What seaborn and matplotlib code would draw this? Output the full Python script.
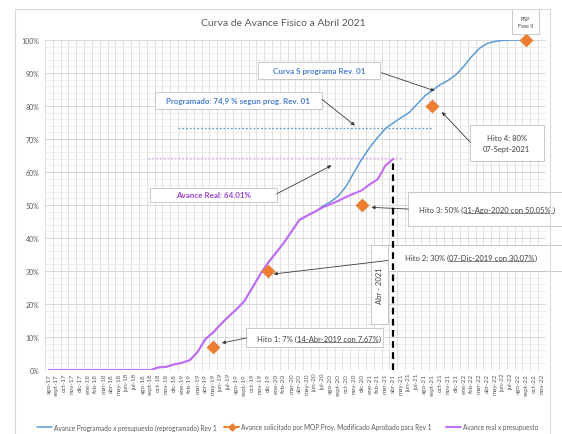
import numpy as np
import matplotlib
matplotlib.use('Agg')
import matplotlib.pyplot as plt
import seaborn as sns
from matplotlib.lines import Line2D
from matplotlib.patches import Rectangle
from matplotlib.ticker import MultipleLocator, PercentFormatter

# ---- data ----
meses = ['ago-17', 'sept-17', 'oct-17', 'nov-17', 'dic-17',
         'ene-18', 'feb-18', 'mar-18', 'abr-18', 'may-18', 'jun-18', 'jul-18',
         'ago-18', 'sept-18', 'oct-18', 'nov-18', 'dic-18',
         'ene-19', 'feb-19', 'mar-19', 'abr-19', 'may-19', 'jun-19', 'jul-19',
         'ago-19', 'sept-19', 'oct-19', 'nov-19', 'dic-19',
         'ene-20', 'feb-20', 'mar-20', 'abr-20', 'may-20', 'jun-20', 'jul-20',
         'ago-20', 'sept-20', 'oct-20', 'nov-20', 'dic-20',
         'ene-21', 'feb-21', 'mar-21', 'abr-21', 'may-21', 'jun-21', 'jul-21',
         'ago-21', 'sept-21', 'oct-21', 'nov-21', 'dic-21',
         'ene-22', 'feb-22', 'mar-22', 'abr-22', 'may-22', 'jun-22', 'jul-22',
         'ago-22', 'sept-22', 'oct-22', 'nov-22']

# Avance Programado x presupuesto (reprogramado) Rev 1, ago-17 .. sept-22
programado = [0, 0, 0, 0, 0, 0, 0, 0, 0, 0, 0, 0, 0, 0,
              0.8, 1.0, 1.7, 2.2, 3.0, 5.5, 9.4, 11.4, 14.0, 16.3, 18.5, 21.0,
              25.0, 29.0, 32.5, 35.5, 38.5, 42.0, 45.5, 46.8, 48.0,
              49.7, 51.0, 52.8, 55.8, 60.0, 64.0, 67.5, 70.5, 73.2, 74.9,
              76.5, 78.0, 80.5, 83.0, 84.8, 86.5, 87.8, 89.5, 92.0, 95.0,
              97.5, 99.0, 99.6, 99.9, 100, 100, 100]

# Avance real x presupuesto, ago-17 .. abr-21
real = [0, 0, 0, 0, 0, 0, 0, 0, 0, 0, 0, 0, 0, 0,
        0.8, 1.0, 1.7, 2.2, 3.0, 5.5, 9.4, 11.4, 14.0, 16.3, 18.5, 21.0,
        25.0, 29.0, 32.5, 35.5, 38.5, 42.0, 45.5, 46.8, 48.0,
        49.3, 50.3, 51.3, 52.5, 53.5, 54.5, 56.3, 57.8, 62.0, 64.01]

# Avance solicitado por MOP (hitos)
hitos_mes = ['may-19', 'dic-19', 'dic-20', 'sept-21', 'sept-22']
hitos_val = [7, 30, 50, 80, 100]

prog_ref = 73.3     # linea punteada azul
real_ref = 64.2     # linea punteada violeta
corte_mes = 'abr-21'

AZUL = '#5b9bd5'
NARANJA = '#ed7d31'
VIOLETA = '#c46bf5'
GRIS = '#595959'
TXT = '#404040'

sns.set_style('whitegrid')
plt.rcParams['font.family'] = ['Lato', 'DejaVu Sans']

fig = plt.figure(figsize=(5.62, 4.35), dpi=100)
ax = fig.add_axes([0.080, 0.147, 0.8915, 0.7586])

x_prog = np.arange(len(programado))
x_real = np.arange(len(real))
x_hito = [meses.index(m) for m in hitos_mes]
x_corte = meses.index(corte_mes)

sns.lineplot(x=x_prog, y=programado, ax=ax, color=AZUL, lw=1.1,
             estimator=None, zorder=3)
sns.lineplot(x=x_real, y=real, ax=ax, color=VIOLETA, lw=1.5,
             estimator=None, zorder=3)
sns.scatterplot(x=x_hito, y=hitos_val, ax=ax, color=NARANJA, marker='D',
                s=50, edgecolor=NARANJA, linewidth=0, zorder=4, clip_on=False)

# reference dotted lines
ax.plot([16.5, 49], [prog_ref, prog_ref], ls=(0, (1.5, 1.5)), color=AZUL,
        lw=0.9, zorder=2)
ax.plot([12.7, 45.1], [real_ref, real_ref], ls=(0, (1.5, 1.5)), color='#e59cf5',
        lw=0.9, zorder=2)
ax.plot([x_corte, x_corte], [0, real[-1]], ls=(0, (3, 2)), color='black',
        lw=1.6, zorder=8)

ax.set_xlim(-0.5, len(meses) - 0.5)
ax.set_ylim(0, 100)
ax.set_xticks(range(len(meses)))
ax.set_xticklabels(meses, rotation=90, fontsize=4.6, color=GRIS)
ax.xaxis.set_minor_locator(MultipleLocator(1, offset=0.5))
ax.yaxis.set_major_locator(MultipleLocator(10))
ax.yaxis.set_minor_locator(MultipleLocator(2))
ax.yaxis.set_major_formatter(PercentFormatter(100, decimals=0))
ax.tick_params(axis='y', labelsize=5.0, labelcolor=GRIS, length=0, pad=4)
ax.tick_params(axis='x', length=0, pad=2)
ax.tick_params(which='minor', length=0)
ax.grid(False)
ax.grid(axis='x', which='minor', color='#dadada', lw=0.6)
ax.grid(axis='y', which='major', color='#d2d2d2', lw=0.6)
ax.grid(axis='y', which='minor', color='#e6e6e6', lw=0.5)
for s in ax.spines.values():
    s.set_visible(False)
ax.set_xlabel('')
ax.set_ylabel('')

FS = 5.5      # texto normal de las cajas
FSB = 5.8     # texto en negrita
subrayados = []


def caja(x0, x1, y0, y1):
    ax.add_patch(Rectangle((x0, y0), x1 - x0, y1 - y0, facecolor='white',
                           edgecolor='#c0c0c0', lw=0.6, zorder=6, clip_on=False))


def flecha(tail, tip):
    ax.annotate('', xy=tip, xytext=tail, zorder=7,
                arrowprops=dict(arrowstyle='-|>', color='#3a3a3a', lw=0.6,
                                mutation_scale=5, shrinkA=0, shrinkB=0))


# Curva S
caja(26.7, 42.3, 88.3, 93.4)
ax.text(34.5, 90.8, 'Curva S programa Rev. 01', ha='center', va='center',
        fontsize=FSB, color='#4a7fd0', fontweight='bold', zorder=7)
flecha((42.5, 90.1), (49.3, 84.6))

# Programado
caja(13.5, 34.9, 79.2, 84.4)
ax.text(24.2, 81.8, 'Programado: 74,9 % segun prog. Rev. 01', ha='center',
        va='center', fontsize=FSB, color='#4a7fd0', fontweight='bold', zorder=7)
flecha((34.9, 82.0), (39.1, 74.1))

# Avance real
caja(12.9, 29.1, 51.0, 55.2)
ax.text(21.0, 53.1, 'Avance Real: 64,01%', ha='center', va='center',
        fontsize=FSB, color='#9a45d6', fontweight='bold', zorder=7)
flecha((29.1, 53.4), (36.1, 62.0))

# Hito 3
caja(45.9, 66.0, 43.8, 53.9)
subrayados.append((47.3, 48.0, 'Hito 3: 50% (', '31-Ago-2020 con 50,05% ', ')'))
flecha((45.9, 48.8), (41.2, 49.3))

# Hito 2
caja(43.3, 66.0, 30.0, 37.9)
subrayados.append((45.5, 33.4, 'Hito 2: 30% (', '07-Dic-2019 con 30,07%', ')'))
flecha((43.3, 33.2), (28.7, 29.1))

# Hito 1
caja(25.2, 42.7, 6.9, 12.6)
subrayados.append((26.6, 8.9, 'Hito 1: 7% (', '14-Abr-2019 con 7,67%', ')'))
flecha((25.2, 9.7), (22.1, 8.2))

# Hito 4
caja(53.8, 63.3, 63.3, 74.4)
ax.text(58.5, 68.8, 'Hito 4: 80%\n07-Sept-2021', ha='center', va='center',
        fontsize=FS, color=TXT, linespacing=1.6, zorder=7)
flecha((53.8, 69.1), (50.2, 78.2))

# Abr - 2021
caja(41.1, 43.3, 14.0, 37.9)
ax.text(42.2, 26.0, 'Abr - 2021', rotation=90, ha='center', va='center',
        fontsize=FS, color=TXT, zorder=7)

# PSP
caja(59.2, 62.6, 101.9, 109.3)
ax.text(60.9, 105.6, 'PSP\nFase II', ha='center', va='center', fontsize=3.9,
        color=TXT, linespacing=1.5, zorder=7, clip_on=False)

# title and chart frame
fig.text(283 / 562, 1 - 23 / 435, 'Curva de Avance Fisico a Abril 2021',
         ha='center', va='center', fontsize=7.5, color=GRIS)
fig.add_artist(Rectangle((15 / 562, -0.01), 535 / 562, 1 - 10 / 435 + 0.01,
                         transform=fig.transFigure, fill=False,
                         edgecolor='#d9d9d9', lw=0.8))

# legend (three entries spaced like the original)
entradas = [
    (Line2D([], [], color=AZUL, lw=1.1),
     'Avance Programado x presupuesto (reprogramado) Rev 1', 37),
    (Line2D([], [], color=NARANJA, lw=1.4, marker='D', markersize=3.5),
     'Avance solicitado por MOP Proy. Modificado Aprobado para Rev 1', 224),
    (Line2D([], [], color=VIOLETA, lw=1.4),
     'Avance real x presupuesto', 446),
]
for h, lab, px in entradas:
    fig.legend([h], [lab], loc='center left', bbox_to_anchor=(px / 562, 1 - 428 / 435),
               frameon=False, fontsize=4.7, handlelength=2.3, handletextpad=0.25,
               borderaxespad=0, borderpad=0, labelcolor=GRIS)

# hito texts with the underlined date, laid out on a common baseline
fig.canvas.draw()
rend = fig.canvas.get_renderer()
inv = ax.transData.inverted()
for x, y, pre, sub, post in subrayados:
    base = ax.transData.transform((x, y))[1]
    t1 = ax.text(x, y, pre, va='baseline', ha='left', fontsize=FS, color=TXT, zorder=7)
    x2 = t1.get_window_extent(rend).x1
    t2 = ax.text(inv.transform((x2, base))[0], y, sub, va='baseline', ha='left',
                 fontsize=FS, color=TXT, zorder=7)
    bb2 = t2.get_window_extent(rend)
    ax.text(inv.transform((bb2.x1, base))[0], y, post, va='baseline', ha='left',
            fontsize=FS, color=TXT, zorder=7)
    (xa, ya), (xb, _) = inv.transform([(bb2.x0 + 0.3, base - 1.4), (bb2.x1 - 0.3, base - 1.4)])
    ax.plot([xa, xb], [ya, ya], color=TXT, lw=0.45, zorder=7, clip_on=False)

fig.savefig('out.png', dpi=100)
